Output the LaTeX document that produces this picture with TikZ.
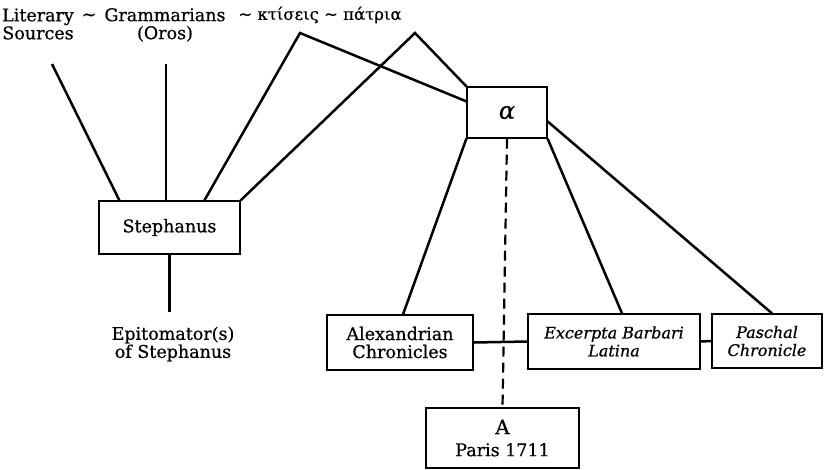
\documentclass[tikz,border=0pt]{standalone}
\usepackage{fontspec}
\setmainfont{DejaVu Serif}[FakeBold=0.6]
\usetikzlibrary{calc}
\begin{document}
\begin{tikzpicture}[x=1pt,y=-1pt,
  txt/.style={font=\fontsize{17.5}{18}\selectfont, inner sep=0pt, align=center},
  boxnode/.style={draw, line width=1.2pt, font=\fontsize{17.5}{18}\selectfont, align=center, inner sep=0pt},
  itbox/.style={boxnode, font=\fontsize{16}{18}\selectfont\itshape},
  conn/.style={line width=2.5pt},
  dashconn/.style={line width=2.2pt, dash pattern=on 10pt off 6pt}]
\useasboundingbox (0,0) rectangle (837,469);
% top labels
\node[txt] (lit) at (38,24) {Literary\\Sources};
\node[txt] (til1) at (89,17) {\textasciitilde};
\node[txt] (gram) at (165,25) {Grammarians\\(Oros)};
\node[txt, font=\fontsize{16.5}{18}\selectfont] (greek) at (320,15) {\textasciitilde{} κτίσεις \textasciitilde{} πάτρια};
\coordinate (litend) at (52,64);
\coordinate (gramend) at (166,64);
\coordinate (kpeak) at (300,33);
\coordinate (ppeak) at (415,33);
% boxes
\node[boxnode, minimum width=141pt, minimum height=53pt] (steph) at (169.5,227.5) {Stephanus};
\node[boxnode, minimum width=80pt, minimum height=51pt, font=\fontsize{24}{26}\selectfont\itshape] (alpha) at (507,112.5) {α};
\node[boxnode, minimum width=146pt, minimum height=55pt] (alex) at (400,342.5) {Alexandrian\\Chronicles};
\node[itbox, minimum width=172pt, minimum height=55pt] (exc) at (614,341.5) {Excerpta Barbari\\Latina};
\node[itbox, minimum width=110pt, minimum height=54pt] (pas) at (767,341) {Paschal\\Chronicle};
\node[boxnode, minimum width=153pt, minimum height=60pt] (A) at (502.5,438) {{\fontsize{20}{22}\selectfont A}\\[4pt]Paris 1711};
\node[txt] (epi) at (173,344) {Epitomator(s)\\of Stephanus};
% connectors
\draw[conn] (litend) -- ($(steph.north west)+(21,0)$);
\draw[conn] (gramend) -- (gramend |- steph.north);
\draw[conn] ($(steph.north west)+(106,0)$) -- (kpeak) -- ($(alpha.north west)+(0,15)$);
\draw[conn] (steph.north east) -- (ppeak) -- (alpha.north west);
\draw[conn] (steph.south) -- ($(steph.south)+(0,57)$);
\draw[conn] (alpha.south west) -- ($(alex.north)+(3,0)$);
\draw[conn] (alpha.south east) -- ($(exc.north)+(8,0)$);
\draw[conn] ($(alpha.north east)+(0,35)$) -- ($(pas.north)+(5,0)$);
\draw[dashconn] (alpha.south) -- (A.north);
\draw[conn] (alex.east) -- (exc.west);
\draw[conn] (exc.east) -- (pas.west);
\end{tikzpicture}
\end{document}
